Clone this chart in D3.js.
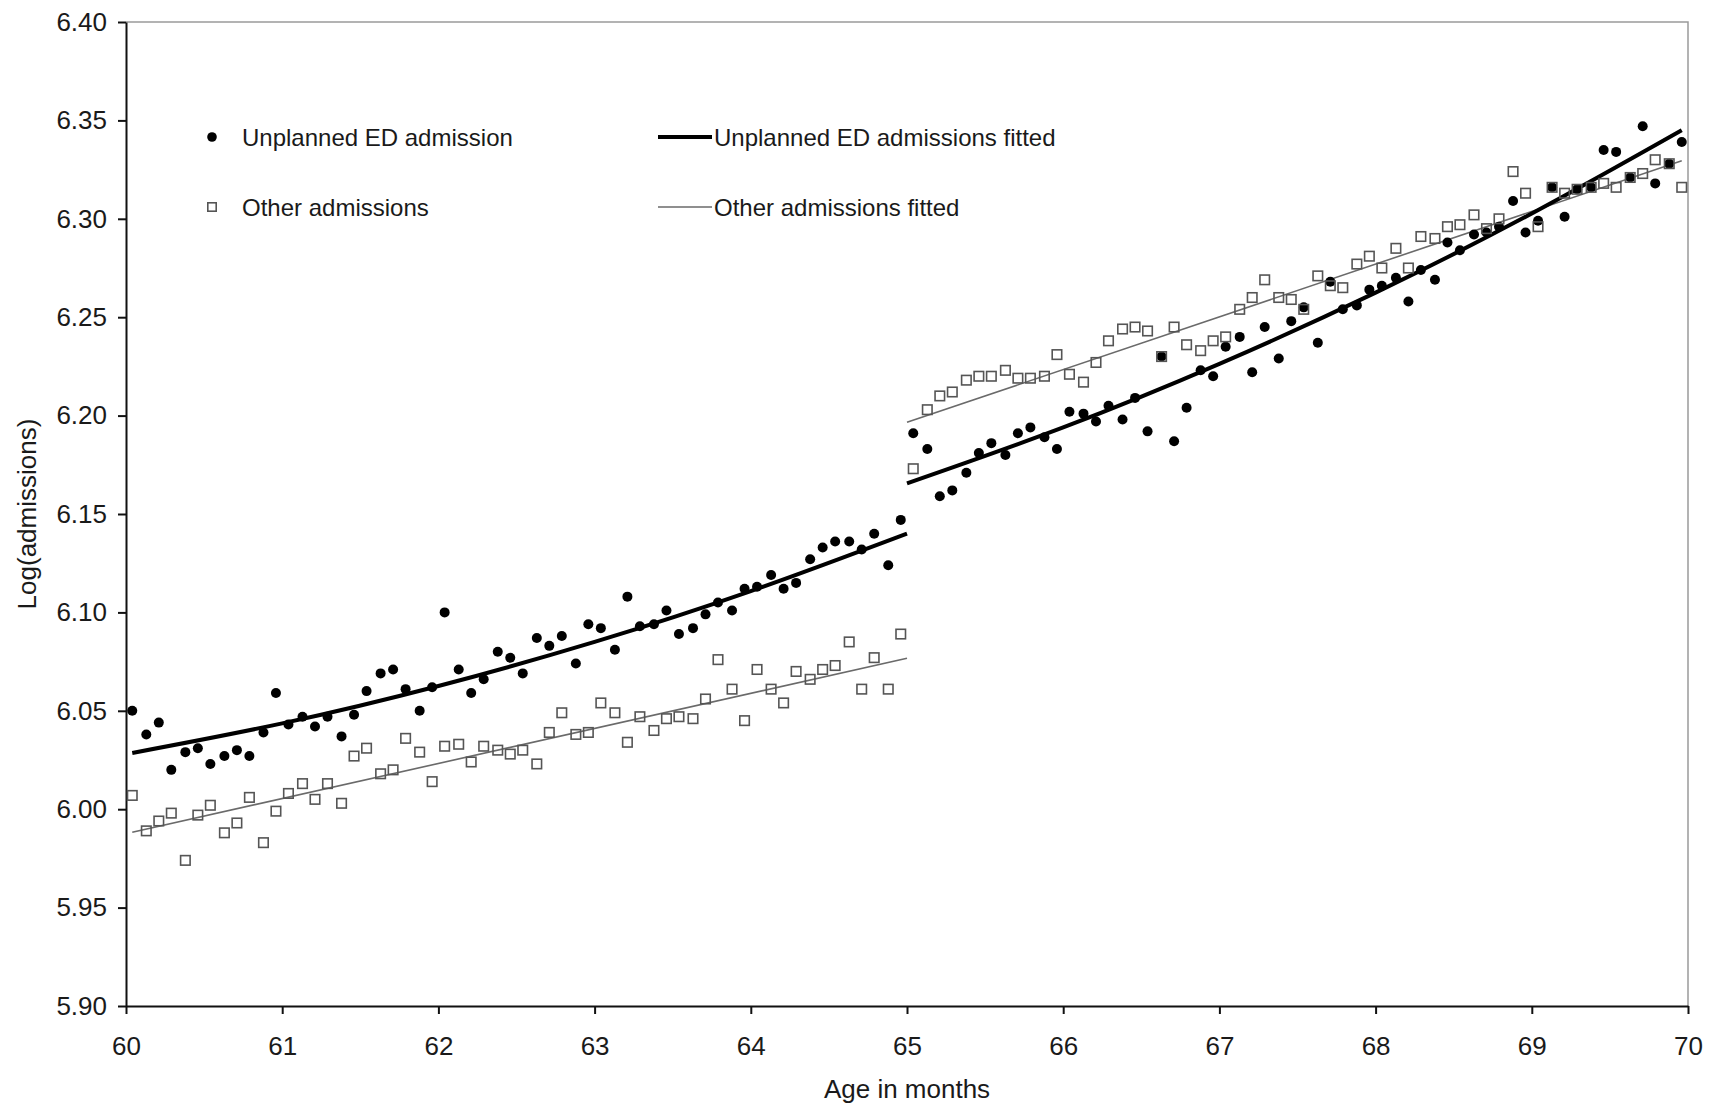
<!DOCTYPE html>
<html>
<head>
<meta charset="utf-8">
<script src="https://cdn.jsdelivr.net/npm/d3@7"></script>
<style>
	html, body { margin: 0; padding: 0; background: #fff; }
	svg { display: block; font-family: "Liberation Sans", Arial, sans-serif; }
	.axis text { font-size: 26px; fill: #1a1a1a; }
	.legend text { font-size: 24px; fill: #1a1a1a; }
</style>
</head>
<body>
<svg id="chart" width="1712" height="1107"></svg>
<script>

// Age (months) of each observation, 12 per month
const ages = [
	60.04, 60.13, 60.21, 60.29, 60.38, 60.46, 60.54, 60.63, 60.71, 60.79, 60.88, 60.96,
	61.04, 61.13, 61.21, 61.29, 61.38, 61.46, 61.54, 61.63, 61.71, 61.79, 61.88, 61.96,
	62.04, 62.13, 62.21, 62.29, 62.38, 62.46, 62.54, 62.63, 62.71, 62.79, 62.88, 62.96,
	63.04, 63.13, 63.21, 63.29, 63.38, 63.46, 63.54, 63.63, 63.71, 63.79, 63.88, 63.96,
	64.04, 64.13, 64.21, 64.29, 64.38, 64.46, 64.54, 64.63, 64.71, 64.79, 64.88, 64.96,
	65.04, 65.13, 65.21, 65.29, 65.38, 65.46, 65.54, 65.63, 65.71, 65.79, 65.88, 65.96,
	66.04, 66.13, 66.21, 66.29, 66.38, 66.46, 66.54, 66.63, 66.71, 66.79, 66.88, 66.96,
	67.04, 67.13, 67.21, 67.29, 67.38, 67.46, 67.54, 67.63, 67.71, 67.79, 67.88, 67.96,
	68.04, 68.13, 68.21, 68.29, 68.38, 68.46, 68.54, 68.63, 68.71, 68.79, 68.88, 68.96,
	69.04, 69.13, 69.21, 69.29, 69.38, 69.46, 69.54, 69.63, 69.71, 69.79, 69.88, 69.96
];

const unplanned = [
	6.050, 6.038, 6.044, 6.020, 6.029, 6.031, 6.023, 6.027, 6.030, 6.027, 6.039, 6.059,
	6.043, 6.047, 6.042, 6.047, 6.037, 6.048, 6.060, 6.069, 6.071, 6.061, 6.050, 6.062,
	6.100, 6.071, 6.059, 6.066, 6.080, 6.077, 6.069, 6.087, 6.083, 6.088, 6.074, 6.094,
	6.092, 6.081, 6.108, 6.093, 6.094, 6.101, 6.089, 6.092, 6.099, 6.105, 6.101, 6.112,
	6.113, 6.119, 6.112, 6.115, 6.127, 6.133, 6.136, 6.136, 6.132, 6.140, 6.124, 6.147,
	6.191, 6.183, 6.159, 6.162, 6.171, 6.181, 6.186, 6.180, 6.191, 6.194, 6.189, 6.183,
	6.202, 6.201, 6.197, 6.205, 6.198, 6.209, 6.192, 6.230, 6.187, 6.204, 6.223, 6.220,
	6.235, 6.240, 6.222, 6.245, 6.229, 6.248, 6.255, 6.237, 6.268, 6.254, 6.256, 6.264,
	6.266, 6.270, 6.258, 6.274, 6.269, 6.288, 6.284, 6.292, 6.293, 6.296, 6.309, 6.293,
	6.299, 6.316, 6.301, 6.315, 6.316, 6.335, 6.334, 6.321, 6.347, 6.318, 6.328, 6.339
];

const other = [
	6.007, 5.989, 5.994, 5.998, 5.974, 5.997, 6.002, 5.988, 5.993, 6.006, 5.983, 5.999,
	6.008, 6.013, 6.005, 6.013, 6.003, 6.027, 6.031, 6.018, 6.020, 6.036, 6.029, 6.014,
	6.032, 6.033, 6.024, 6.032, 6.030, 6.028, 6.030, 6.023, 6.039, 6.049, 6.038, 6.039,
	6.054, 6.049, 6.034, 6.047, 6.040, 6.046, 6.047, 6.046, 6.056, 6.076, 6.061, 6.045,
	6.071, 6.061, 6.054, 6.070, 6.066, 6.071, 6.073, 6.085, 6.061, 6.077, 6.061, 6.089,
	6.173, 6.203, 6.210, 6.212, 6.218, 6.220, 6.220, 6.223, 6.219, 6.219, 6.220, 6.231,
	6.221, 6.217, 6.227, 6.238, 6.244, 6.245, 6.243, 6.230, 6.245, 6.236, 6.233, 6.238,
	6.240, 6.254, 6.260, 6.269, 6.260, 6.259, 6.254, 6.271, 6.266, 6.265, 6.277, 6.281,
	6.275, 6.285, 6.275, 6.291, 6.290, 6.296, 6.297, 6.302, 6.295, 6.300, 6.324, 6.313,
	6.296, 6.316, 6.313, 6.315, 6.316, 6.318, 6.316, 6.321, 6.323, 6.330, 6.328, 6.316
];

// Fitted curves, read at a few ages on each side of the 65-month break
const fitUnplannedBeforeAges = [60.04, 61, 62, 63, 64, 65];
const fitUnplannedBefore = [6.0286, 6.0436, 6.0626, 6.0850, 6.1108, 6.1400];
const fitUnplannedAfterAges = [65, 66, 67, 68, 69, 69.96];
const fitUnplannedAfter = [6.1656, 6.1940, 6.2263, 6.2625, 6.3027, 6.3450];
const fitOtherBeforeAges = [60.04, 65];
const fitOtherBefore = [5.9883, 6.0767];
const fitOtherAfterAges = [65, 69.96];
const fitOtherAfter = [6.1966, 6.3295];

const xTicks = [60, 61, 62, 63, 64, 65, 66, 67, 68, 69, 70];
const yTicks = [5.90, 5.95, 6.00, 6.05, 6.10, 6.15, 6.20, 6.25, 6.30, 6.35, 6.40];

const legendItems = [
	{ label: "Unplanned ED admission", kind: "dot", col: 0, row: 0 },
	{ label: "Unplanned ED admissions fitted", kind: "thick", col: 1, row: 0 },
	{ label: "Other admissions", kind: "square", col: 0, row: 1 },
	{ label: "Other admissions fitted", kind: "thin", col: 1, row: 1 }
];

const svg = d3.select("#chart");

const plot = { left: 126, right: 1688, top: 22, bottom: 1006 };

const x = d3.scaleLinear().domain([60, 70]).range([plot.left, plot.right]);
const y = d3.scaleLinear().domain([5.90, 6.40]).range([plot.bottom, plot.top]);

const DOT_R = 5;
const SQ = 9.5;
const SQ_COLOR = "#555";
const THIN_COLOR = "#6a6a6a";

// top and right frame
svg.append("path")
	.attr("d", "M" + plot.left + "," + plot.top + "H" + plot.right + "V" + plot.bottom)
	.attr("fill", "none")
	.attr("stroke", "#9a9a9a")
	.attr("stroke-width", 1.5);

// axes
const xAxis = svg.append("g")
	.attr("class", "axis")
	.attr("transform", "translate(0," + plot.bottom + ")")
	.call(d3.axisBottom(x).tickValues(xTicks).tickFormat(d3.format("d"))
		.tickSize(8).tickSizeOuter(0).tickPadding(23));

const yAxis = svg.append("g")
	.attr("class", "axis")
	.attr("transform", "translate(" + plot.left + ",0)")
	.call(d3.axisLeft(y).tickValues(yTicks).tickFormat(d3.format(".2f"))
		.tickSize(8).tickSizeOuter(0).tickPadding(11));

[xAxis, yAxis].forEach(function(g) {
	g.select(".domain").attr("stroke", "#111").attr("stroke-width", 2);
	g.selectAll(".tick line").attr("stroke", "#111").attr("stroke-width", 2);
	g.selectAll("text").attr("font-family", null).attr("font-size", null);
});

// axis titles
svg.append("text")
	.attr("x", (plot.left + plot.right) / 2)
	.attr("y", 1098)
	.attr("text-anchor", "middle")
	.attr("font-size", 26)
	.attr("fill", "#1a1a1a")
	.text("Age in months");

svg.append("text")
	.attr("transform", "translate(36," + (plot.top + plot.bottom) / 2 + ") rotate(-90)")
	.attr("text-anchor", "middle")
	.attr("font-size", 26)
	.attr("fill", "#1a1a1a")
	.text("Log(admissions)");

// fitted lines
const line = d3.line()
	.x(function(d) { return x(d[0]); })
	.y(function(d) { return y(d[1]); })
	.curve(d3.curveNatural);

function drawFit(xs, ys, color, width) {
	svg.append("path")
		.datum(d3.zip(xs, ys))
		.attr("d", line)
		.attr("fill", "none")
		.attr("stroke", color)
		.attr("stroke-width", width);
}

drawFit(fitOtherBeforeAges, fitOtherBefore, THIN_COLOR, 1.6);
drawFit(fitOtherAfterAges, fitOtherAfter, THIN_COLOR, 1.6);
drawFit(fitUnplannedBeforeAges, fitUnplannedBefore, "#000", 4);
drawFit(fitUnplannedAfterAges, fitUnplannedAfter, "#000", 4);

// observations
svg.append("g").selectAll("circle")
	.data(d3.zip(ages, unplanned))
	.enter().append("circle")
		.attr("cx", function(d) { return x(d[0]); })
		.attr("cy", function(d) { return y(d[1]); })
		.attr("r", DOT_R)
		.attr("fill", "#000");

svg.append("g").selectAll("rect")
	.data(d3.zip(ages, other))
	.enter().append("rect")
		.attr("x", function(d) { return x(d[0]) - SQ / 2; })
		.attr("y", function(d) { return y(d[1]) - SQ / 2; })
		.attr("width", SQ)
		.attr("height", SQ)
		.attr("fill", "none")
		.attr("stroke", SQ_COLOR)
		.attr("stroke-width", 1.6);

// legend
const legendCols = [212, 658];
const legendRows = [137, 207];

const legend = svg.append("g").attr("class", "legend");

legendItems.forEach(function(item) {
	const lx = legendCols[item.col],
		ly = legendRows[item.row];

	if (item.kind === "dot") {
		legend.append("circle").attr("cx", lx).attr("cy", ly).attr("r", 4.8).attr("fill", "#000");
	} else if (item.kind === "square") {
		legend.append("rect")
			.attr("x", lx - 4.2).attr("y", ly - 4.2).attr("width", 8.4).attr("height", 8.4)
			.attr("fill", "none").attr("stroke", SQ_COLOR).attr("stroke-width", 1.6);
	} else {
		legend.append("line")
			.attr("x1", lx).attr("x2", lx + 54).attr("y1", ly).attr("y2", ly)
			.attr("stroke", item.kind === "thick" ? "#000" : THIN_COLOR)
			.attr("stroke-width", item.kind === "thick" ? 4 : 1.6);
	}

	legend.append("text")
		.attr("x", item.kind === "dot" || item.kind === "square" ? lx + 30 : lx + 56)
		.attr("y", ly)
		.attr("dy", "0.36em")
		.text(item.label);
});

</script>
</body>
</html>
